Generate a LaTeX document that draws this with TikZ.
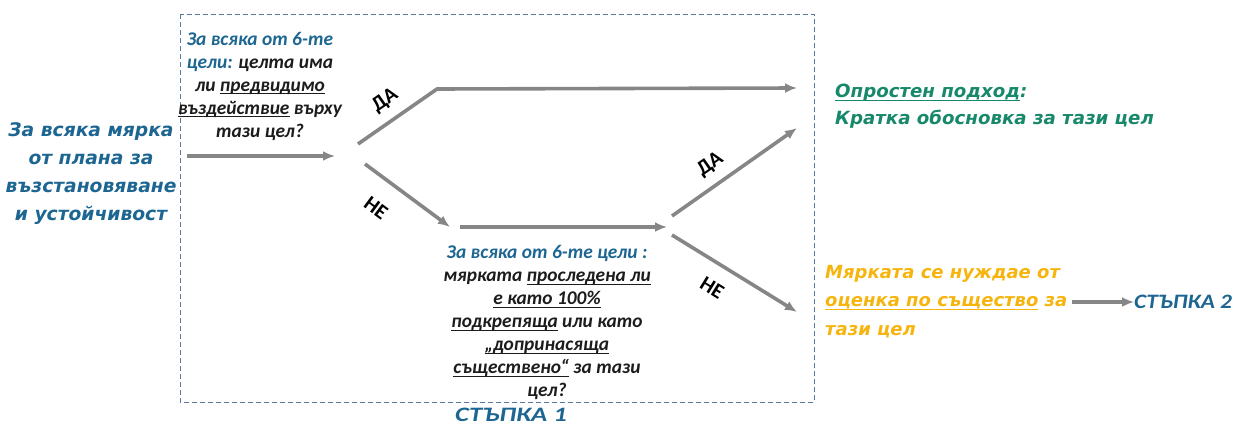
\documentclass[tikz,border=0pt]{standalone}
\usepackage{fontspec}
\setmainfont{Carlito}
\newfontfamily\verdana{DejaVu Sans}
\usetikzlibrary{arrows.meta}
\definecolor{bleuetape}{RGB}{30,102,146}
\definecolor{vertsimple}{RGB}{24,136,106}
\definecolor{orevaluation}{RGB}{246,181,14}
\definecolor{grisfleche}{RGB}{134,134,134}
\definecolor{griscadre}{RGB}{88,118,158}
\definecolor{noirtexte}{RGB}{28,28,28}
\newcommand{\souligne}[1]{\setbox0\hbox{#1}\rlap{\rule[-3.2pt]{\wd0}{1pt}}\box0\relax}

\begin{document}
\begin{tikzpicture}[x=1pt,y=-1pt]
% Styles
\tikzstyle{fleche}=[-{Latex[length=12pt,width=10pt]},line width=3.6pt,grisfleche]
\tikzstyle{cadre}=[griscadre,line width=0.9pt,dash pattern=on 5pt off 3pt]
\tikzstyle{mesure}=[align=center,text=bleuetape,font=\verdana\fontsize{18.7}{27.8}\selectfont\bfseries\itshape]
\tikzstyle{question}=[align=center,text=noirtexte,font=\fontsize{19.4}{23}\selectfont\bfseries\itshape]
\tikzstyle{resultat}=[align=left,anchor=west,inner sep=0pt]
\tikzstyle{etape}=[text=bleuetape,font=\fontsize{20.5}{22}\selectfont\bfseries\itshape]
\tikzstyle{etiquette}=[sloped,text=black,inner sep=2pt,font=\fontsize{21}{22}\selectfont\bfseries]
% Cadre de l'etape 1
\useasboundingbox (0,0) rectangle (1233,425);
\draw[cadre] (180,14) rectangle (814,402);
% Noeuds
\node[mesure] (mesure) at (91,173.5) {За всяка мярка\\от плана за\\възстановяване\\и устойчивост};
\node[question] (q1) at (260,86) {{\color{bleuetape}За всяка от 6-те}\\{\color{bleuetape}цели:} целта има\\ли \souligne{предвидимо}\\\souligne{въздействие} върху\\тази цел?};
\node[question] (q2) at (547,322.3) {{\color{bleuetape}За всяка от 6-те цели :}\\мярката \souligne{проследена ли}\\\souligne{е като 100\%}\\\souligne{подкрепяща} или като\\\souligne{„допринасяща}\\\souligne{съществено“} за тази\\цел?};
\node[resultat,text=vertsimple,font=\verdana\fontsize{18.2}{27}\selectfont\bfseries\itshape] (simple) at (835,106.5) {\souligne{Опростен подход}:\\Кратка обосновка за тази цел};
\node[resultat,text=orevaluation,font=\verdana\fontsize{18}{28.5}\selectfont\bfseries\itshape] (evaluation) at (825,301.5) {Мярката се нуждае от\\\souligne{оценка по същество} за\\тази цел};
\node[etape,anchor=west,inner sep=0pt,xscale=1.14] (etape2) at (1134,302) {СТЪПКА 2};
\node[etape,xscale=1.3] (etape1) at (511,415) {СТЪПКА 1};
% Points des fleches
\coordinate (m1) at (187,156);
\coordinate (m2) at (335,156);
\coordinate (oui1) at (358,144);
\coordinate (coude) at (437,89);
\coordinate (fsimple) at (797,88);
\coordinate (non1) at (365,164);
\coordinate (fnon1) at (450,227);
\coordinate (q2a) at (460,227);
\coordinate (q2b) at (667,227);
\coordinate (oui2) at (672,216);
\coordinate (foui2) at (797,128);
\coordinate (non2) at (672,235);
\coordinate (fnon2) at (797,312);
\coordinate (e1) at (1072,302);
% Arcs
\draw[fleche] (m1)--(m2);
\draw[fleche] (oui1)--(coude) node[etiquette,pos=0.49,above=8pt] {ДА} --(fsimple);
\draw[fleche] (non1)--(fnon1) node[etiquette,pos=0.33,below=18pt] {НЕ};
\draw[fleche] (q2a)--(q2b);
\draw[fleche] (oui2)--(foui2) node[etiquette,pos=0.40,above=8pt] {ДА};
\draw[fleche] (non2)--(fnon2) node[etiquette,pos=0.42,below=13pt] {НЕ};
\draw[fleche] (e1)--(etape2.west);
\end{tikzpicture}
\end{document}
